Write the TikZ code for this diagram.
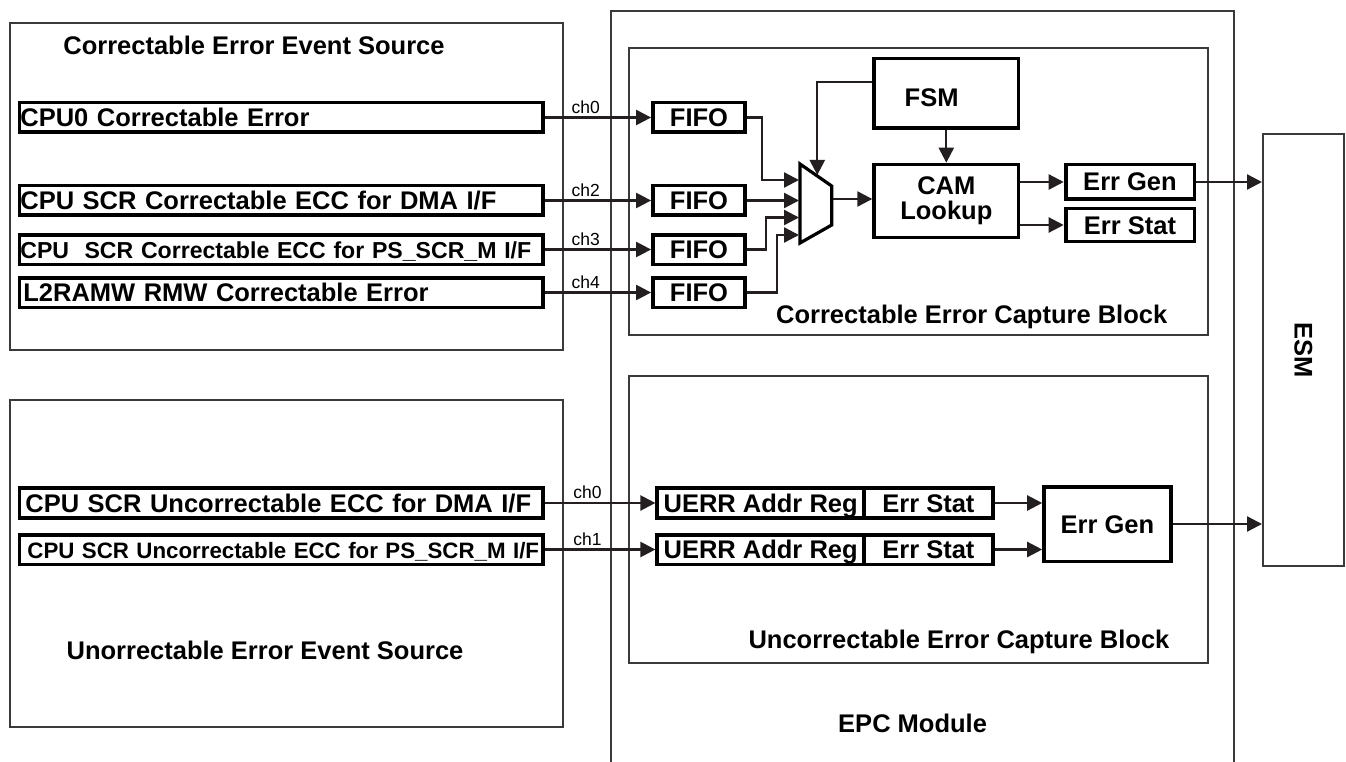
\documentclass[tikz,border=0pt]{standalone}
\usepackage{fontspec}
\setmainfont{Liberation Sans}
\usetikzlibrary{arrows.meta,calc}
\definecolor{lncol}{HTML}{231F20}
\definecolor{thincol}{HTML}{3A3A3A}
\tikzset{
  bigtxt/.style={font=\bfseries\fontsize{25.5}{25}\selectfont},
  thinbox/.style={draw=thincol, line width=2pt},
  bord/.style={draw=black, line width=3.8pt},
  srcbox/.style={bord, bigtxt, minimum height=29.8pt, inner xsep=1pt, inner ysep=0pt,
     text width=521.5pt, align=left, text height=18pt, text depth=0pt},
  blk/.style={bord, bigtxt, inner sep=0pt, text height=18pt, text depth=0pt},
  blk2/.style={bord, bigtxt, inner sep=0pt, align=center},
  conn/.style={draw=lncol, line width=2.3pt},
  arr/.style={conn, -{Triangle[length=15pt,width=15pt]}},
  chl/.style={font=\fontsize{17.5}{18}\selectfont, above, inner sep=3pt, pos=0.385},
}
\begin{document}
\begin{tikzpicture}[x=1pt,y=-1pt]
\useasboundingbox (0,0) rectangle (1346,762);
\fill[white] (0,0) rectangle (1346,762);

% outer frames
\draw[thinbox] (10,23) rectangle (563,350);
\draw[thinbox] (10,400) rectangle (563,727);
\draw[thinbox] (610.5,764) -- (610.5,11) -- (1234,11) -- (1234,764);
\draw[thinbox] (628.5,48) rectangle (1208,335);
\draw[thinbox] (628.5,376) rectangle (1208,663);
\node[thinbox, minimum width=81pt, minimum height=432pt, inner sep=0pt] (esm) at (1303.5,350)
  {\bfseries\fontsize{25.5}{25}\selectfont\rotatebox{-90}{ESM}};

% titles
\node[bigtxt] (t1) at (254,45) {Correctable Error Event Source};
\node[bigtxt] (t2) at (265,650) {Unorrectable Error Event Source};
\node[bigtxt] (t3) at (971.7,317) {Correctable Error Capture Block};
\node[bigtxt] (t4) at (959,642) {Uncorrectable Error Capture Block};
\node[bigtxt] (t5) at (912.6,723) {EPC Module};

% source boxes
\node[srcbox] (s0) at (281.15,117.5) {CPU0 Correctable Error};
\node[srcbox] (s1) at (281.15,200.5) {CPU SCR Correctable ECC for DMA I/F};
\node[srcbox, font=\bfseries\fontsize{23.1}{24}\selectfont] (s2) at (281.15,249.5) {CPU~ SCR Correctable ECC for PS\_SCR\_M I/F};
\node[srcbox] (s3) at (281.15,292.5) {\hspace*{3pt}L2RAMW RMW Correctable Error};
\node[srcbox] (u0) at (281.15,503) {\hspace*{5pt}CPU SCR Uncorrectable ECC for DMA I/F};
\node[srcbox, font=\bfseries\fontsize{22.3}{24}\selectfont] (u1) at (281.15,549.5) {\hspace*{7pt}CPU SCR Uncorrectable ECC for PS\_SCR\_M I/F};

% FIFOs
\node[blk, minimum width=92pt, minimum height=29.8pt] (f0) at (699,117.5) {FIFO};
\node[blk, minimum width=92pt, minimum height=29.8pt] (f1) at (699,200.5) {FIFO};
\node[blk, minimum width=92pt, minimum height=29.8pt] (f2) at (699,249.5) {FIFO};
\node[blk, minimum width=92pt, minimum height=29.8pt] (f3) at (699,292.5) {FIFO};

% FSM, CAM, Err Gen, Err Stat
\node[blk, minimum width=144.2pt, minimum height=69.8pt] (fsm) at (946.3,93.5) {};
\node[bigtxt] (fsmt) at (931.6,98) {FSM};
\node[blk2, minimum width=144.2pt, minimum height=72.8pt] (cam) at (946.3,201) {CAM\\Lookup};
\node[blk, minimum width=128.8pt, minimum height=34.8pt] (eg) at (1130,182) {Err Gen};
\node[blk, minimum width=128.8pt, minimum height=32.8pt] (es) at (1130,225) {Err Stat};

% uncorrectable capture
\node[blk, minimum width=206.7pt, minimum height=29.8pt] (ua0) at (760.65,503) {UERR Addr Reg};
\node[blk, minimum width=128.9pt, minimum height=29.8pt] (us0) at (928.45,503) {Err Stat};
\node[blk, minimum width=206.7pt, minimum height=29.8pt] (ua1) at (760.65,549.5) {UERR Addr Reg};
\node[blk, minimum width=128.9pt, minimum height=29.8pt] (us1) at (928.45,549.5) {Err Stat};
\node[blk, minimum width=126.7pt, minimum height=74.8pt] (ug) at (1107.45,524) {Err Gen};

% mux
\draw[draw=black, line width=3.2pt, line join=miter] (800,164) -- (831.7,186) -- (831.7,225) -- (800,243) -- cycle;
\coordinate (mi1) at (799,180);
\coordinate (mi2) at (799,200.5);
\coordinate (mi3) at (799,217.5);
\coordinate (mi4) at (799,235);
\coordinate (j1) at (761.7,180);
\coordinate (j3) at (765.7,217.5);
\coordinate (j4) at (777.3,235);
\coordinate (mtop) at (817.3,175);
\coordinate (mo) at (833,199);

% source -> FIFO / UERR
\draw[arr] (s0.east) -- node[chl] {ch0} (f0.west);
\draw[arr] (s1.east) -- node[chl] {ch2} (f1.west);
\draw[arr] (s2.east) -- node[chl] {ch3} (f2.west);
\draw[arr] (s3.east) -- node[chl] {ch4} (f3.west);
\draw[arr] (u0.east) -- node[chl] {ch0} (ua0.west);
\draw[arr] (u1.east) -- node[chl] {ch1} (ua1.west);

% FIFO -> mux
\draw[arr] (f0.east) -| (j1) -- (mi1);
\draw[arr] (f1.east) -- (mi2);
\draw[arr] (f2.east) -| (j3) -- (mi3);
\draw[arr] (f3.east) -| (j4) -- (mi4);

% FSM -> mux, FSM -> CAM
\draw[arr] ([yshift=11.5pt]fsm.west) -| (mtop);
\draw[arr] (fsm.south) -- (cam.north);
\draw[arr] (mo) -- (mo -| cam.west);

% CAM -> Err Gen / Err Stat
\draw[arr] (cam.east |- eg.west) -- (eg.west);
\draw[arr] (cam.east |- es.west) -- (es.west);

% to ESM
\draw[arr] (eg.east) -- (eg.east -| esm.west);
\draw[arr] (us0.east) -- (us0.east -| ug.west);
\draw[arr] (us1.east) -- (us1.east -| ug.west);
\draw[arr] (ug.east) -- (ug.east -| esm.west);
\end{tikzpicture}
\end{document}
